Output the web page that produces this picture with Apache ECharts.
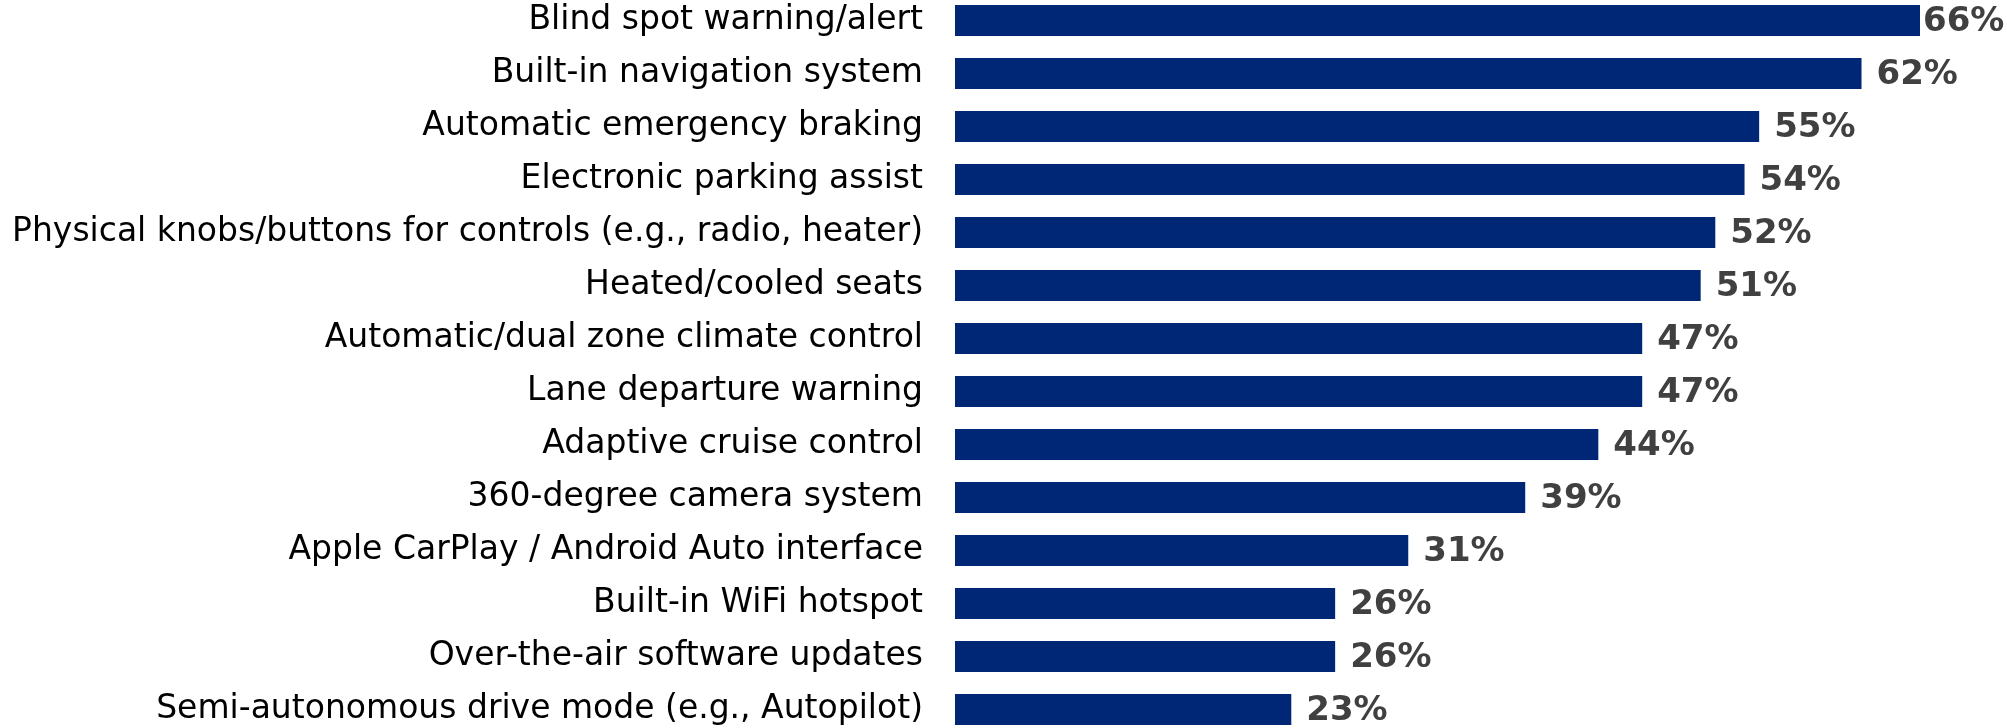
<!DOCTYPE html>
<html>
<head>
<meta charset="utf-8">
<script src="https://cdn.jsdelivr.net/npm/echarts@6/dist/echarts.min.js"></script>
<style>
  html, body { margin: 0; padding: 0; background: #fff; }
  #chart { width: 2007px; height: 728px; }
</style>
</head>
<body>
<div id="chart"></div>
<script>
// features, top to bottom
const categories = [
    'Blind spot warning/alert',
    'Built-in navigation system',
    'Automatic emergency braking',
    'Electronic parking assist',
    'Physical knobs/buttons for controls (e.g., radio, heater)',
    'Heated/cooled seats',
    'Automatic/dual zone climate control',
    'Lane departure warning',
    'Adaptive cruise control',
    '360-degree camera system',
    'Apple CarPlay / Android Auto interface',
    'Built-in WiFi hotspot',
    'Over-the-air software updates',
    'Semi-autonomous drive mode (e.g., Autopilot)'
];
const values = [66, 62, 55, 54, 52, 51, 47, 47, 44, 39, 31, 26, 26, 23];

const maxVal = Math.max(...values);

const chart = echarts.init(document.getElementById('chart'));

chart.setOption({
    animation: false,
    grid: {
        left: 955,
        right: 87,
        top: -6,
        height: 742,
        outerBoundsMode: 'none'
    },
    xAxis: {
        type: 'value',
        min: 0,
        max: maxVal,
        show: false
    },
    yAxis: {
        type: 'category',
        data: categories,
        inverse: true,
        axisLine: { show: false },
        axisTick: { show: false },
        axisLabel: {
            margin: 32,
            color: '#000',
            fontFamily: 'DejaVu Sans',
            fontSize: 33
        }
    },
    series: [{
        type: 'bar',
        barWidth: 31,
        itemStyle: { color: '#002776' },
        label: {
            show: true,
            position: 'right',
            distance: 15,
            offset: [0, 2],
            formatter: '{c}%',
            color: '#404040',
            fontFamily: 'DejaVu Sans',
            fontWeight: 'bold',
            fontSize: 34
        },
        // the longest bar's label sits tight against the chart edge
        data: values.map(v => v === maxVal ? { value: v, label: { distance: 3 } } : v)
    }]
});
</script>
</body>
</html>
